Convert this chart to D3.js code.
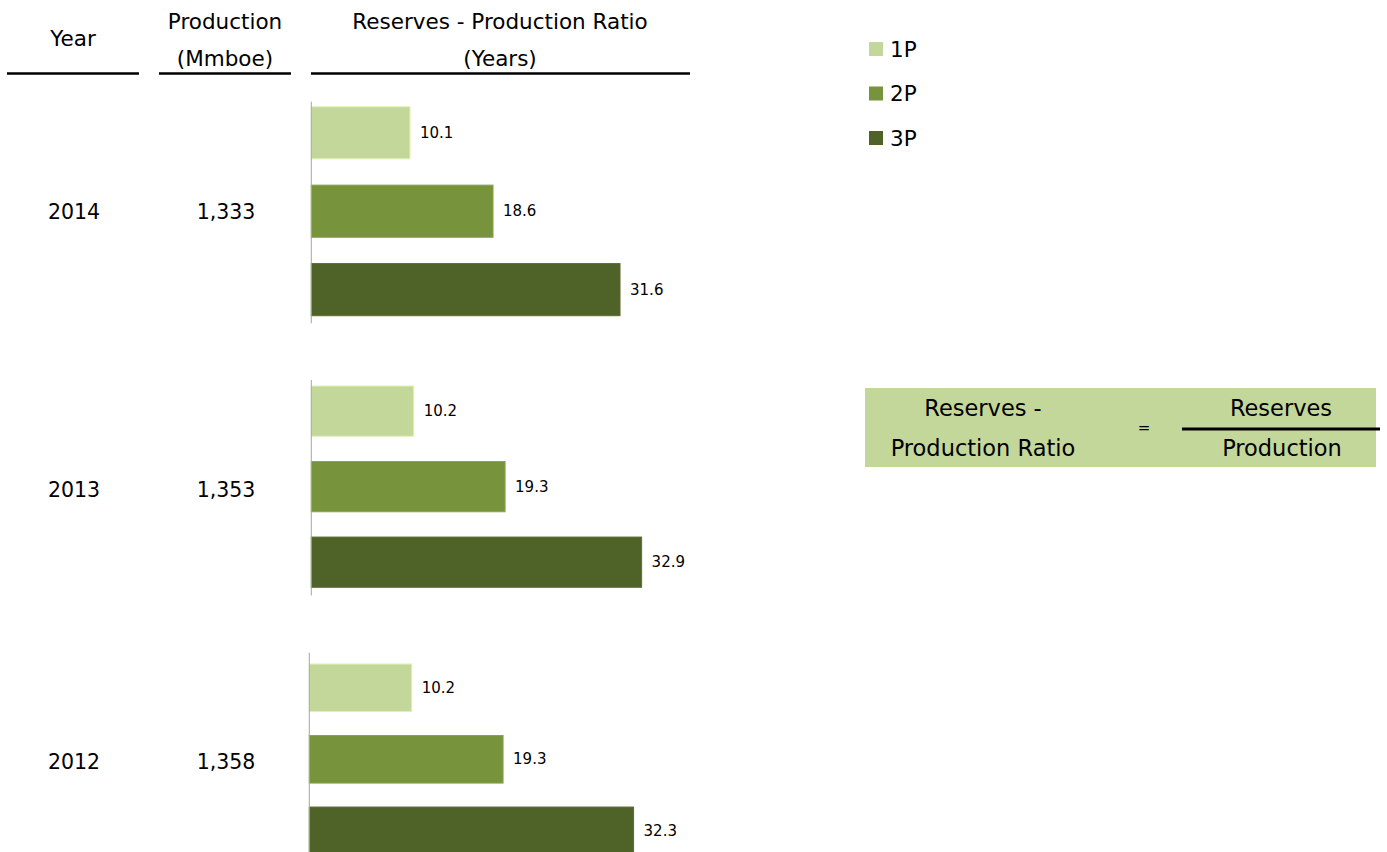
<!DOCTYPE html>
<html>
<head>
<meta charset="utf-8">
<script src="https://cdn.jsdelivr.net/npm/d3@7"></script>
<style>
  html, body { margin: 0; padding: 0; background: #fff; }
  svg { display: block; font-family: "DejaVu Sans", "Liberation Sans", sans-serif; }
</style>
</head>
<body>
<svg id="chart" width="1387" height="852"></svg>
<script>
// Reserves-to-production ratio by year
const years = ["2014", "2013", "2012"];
const production = [1333, 1353, 1358];          // Mmboe
const seriesNames = ["1P", "2P", "3P"];
const ratio1P = [10.1, 10.2, 10.2];             // years
const ratio2P = [18.6, 19.3, 19.3];
const ratio3P = [31.6, 32.9, 32.3];

const colors = { "1P": "#c4d79b", "2P": "#77933c", "3P": "#4f6228" };

// one small bar panel per year
const panelLayout = [
  { x0: 311.3, unit: 9.77,  axisTop: 101.7, axisBottom: 323.3, bandTop: 106.7, bandBottom: 315.7 },
  { x0: 311.3, unit: 10.04, axisTop: 380,   axisBottom: 595.5, bandTop: 386,   bandBottom: 587.3 },
  { x0: 309.3, unit: 10.04, axisTop: 652.7, axisBottom: 852,   bandTop: 664,   bandBottom: 854.6 }
];

const svg = d3.select("#chart");
const fmt = d3.format(",");
const xMax = 35;

// column headers
const headers = [
  { lines: ["Year"], cx: 73, ys: [38], x1: 7, x2: 139 },
  { lines: ["Production", "(Mmboe)"], cx: 225, ys: [21, 58], x1: 159, x2: 291 },
  { lines: ["Reserves - Production Ratio", "(Years)"], cx: 500, ys: [21, 58], x1: 311, x2: 690 }
];
headers.forEach(h => {
  h.lines.forEach((t, i) => {
    svg.append("text")
      .attr("x", h.cx).attr("y", h.ys[i])
      .attr("text-anchor", "middle").attr("dominant-baseline", "central")
      .attr("font-size", 21.5).attr("fill", "#000")
      .text(t);
  });
  svg.append("line")
    .attr("x1", h.x1).attr("x2", h.x2).attr("y1", 73.5).attr("y2", 73.5)
    .attr("stroke", "#000").attr("stroke-width", 2.5);
});

years.forEach((yr, i) => {
  const L = panelLayout[i];
  const values = [ratio1P[i], ratio2P[i], ratio3P[i]];
  const x = d3.scaleLinear().domain([0, xMax]).range([L.x0, L.x0 + xMax * L.unit]);
  const y = d3.scaleBand().domain(seriesNames).range([L.bandTop, L.bandBottom])
    .paddingInner(0.335).paddingOuter(0);

  const g = svg.append("g");

  g.selectAll("rect.bar")
    .data(seriesNames.map((s, k) => ({ s, v: values[k] })))
    .join("rect")
    .attr("class", "bar")
    .attr("x", x(0))
    .attr("y", d => y(d.s))
    .attr("width", d => x(d.v) - x(0))
    .attr("height", y.bandwidth())
    .attr("fill", d => colors[d.s])
    .attr("stroke", d => d3.color(colors[d.s]).brighter(0.35))
    .attr("stroke-width", 1);

  g.selectAll("text.val")
    .data(seriesNames.map((s, k) => ({ s, v: values[k] })))
    .join("text")
    .attr("class", "val")
    .attr("x", d => x(d.v) + 10)
    .attr("y", d => y(d.s) + y.bandwidth() / 2)
    .attr("dominant-baseline", "central")
    .attr("font-size", 15)
    .attr("fill", "#000")
    .text(d => d3.format(".1f")(d.v));

  // category axis line
  g.append("line")
    .attr("x1", x(0)).attr("x2", x(0))
    .attr("y1", L.axisTop).attr("y2", L.axisBottom)
    .attr("stroke", "#a6a6a6").attr("stroke-width", 1);

  // year and production labels, aligned with the middle bar
  const midY = y("2P") + y.bandwidth() / 2 + (i === 0 ? 1 : 3);
  svg.append("text")
    .attr("x", 74).attr("y", midY)
    .attr("text-anchor", "middle").attr("dominant-baseline", "central")
    .attr("font-size", 20.5).text(yr);
  svg.append("text")
    .attr("x", 226).attr("y", midY)
    .attr("text-anchor", "middle").attr("dominant-baseline", "central")
    .attr("font-size", 20.5).text(fmt(production[i]));
});

// legend
const legend = svg.append("g");
seriesNames.forEach((s, k) => {
  const ly = 42 + k * 44.5;
  legend.append("rect")
    .attr("x", 869).attr("y", ly).attr("width", 14).attr("height", 14)
    .attr("fill", colors[s]);
  legend.append("text")
    .attr("x", 890).attr("y", ly + 7)
    .attr("dominant-baseline", "central")
    .attr("font-size", 21.5).text(s);
});

// formula box
const box = svg.append("g");
box.append("rect")
  .attr("x", 865).attr("y", 388).attr("width", 511).attr("height", 79)
  .attr("fill", "#c4d79b");
[
  { t: "Reserves -", x: 983, y: 408 },
  { t: "Production Ratio", x: 983, y: 448 },
  { t: "Reserves", x: 1281, y: 408 },
  { t: "Production", x: 1282, y: 448 }
].forEach(d => {
  box.append("text")
    .attr("x", d.x).attr("y", d.y)
    .attr("text-anchor", "middle").attr("dominant-baseline", "central")
    .attr("font-size", 22.5).text(d.t);
});
box.append("text")
  .attr("x", 1144).attr("y", 428)
  .attr("text-anchor", "middle").attr("dominant-baseline", "central")
  .attr("font-size", 15).text("=");
box.append("line")
  .attr("x1", 1182).attr("x2", 1380).attr("y1", 429).attr("y2", 429)
  .attr("stroke", "#000").attr("stroke-width", 3);
</script>
</body>
</html>
